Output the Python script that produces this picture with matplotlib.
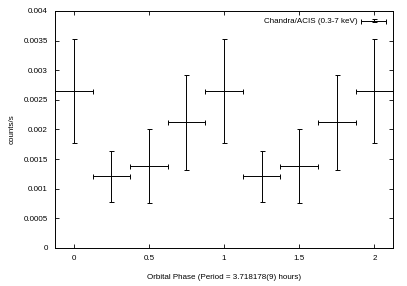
import numpy as np
import matplotlib.pyplot as plt
from matplotlib.ticker import FuncFormatter
from matplotlib.legend_handler import HandlerErrorbar
from matplotlib.container import ErrorbarContainer

plt.rcParams['font.family'] = ['Liberation Sans', 'DejaVu Sans']

phase = [0.0, 0.25, 0.5, 0.75, 1.0, 1.25, 1.5, 1.75, 2.0]
rate = [0.00265, 0.00121, 0.00138, 0.00212, 0.00265, 0.00121, 0.00138, 0.00212, 0.00265]
rate_err = [0.00088, 0.00043, 0.00062, 0.00080, 0.00088, 0.00043, 0.00062, 0.00080, 0.00088]
phase_err = [0.125] * len(phase)

x_ticks = [0, 0.5, 1, 1.5, 2]
y_ticks = [0, 0.0005, 0.001, 0.0015, 0.002, 0.0025, 0.003, 0.0035, 0.004]

fs = 5.8

fig = plt.figure(figsize=(4.07, 2.86), dpi=100)
ax = fig.add_axes([0.135, 0.133, 0.831, 0.829])

eb = ax.errorbar(phase, rate, xerr=phase_err, yerr=rate_err, fmt='none',
                 ecolor='black', elinewidth=0.7, capsize=1.8, capthick=0.7,
                 label='Chandra/ACIS (0.3-7 keV)')

ax.set_xlim(-0.125, 2.125)
ax.set_ylim(0, 0.004)
ax.set_xticks(x_ticks)
ax.set_yticks(y_ticks)
ax.xaxis.set_major_formatter(FuncFormatter(lambda v, p: '%g' % v))
ax.yaxis.set_major_formatter(FuncFormatter(lambda v, p: '%g' % v))
ax.tick_params(direction='in', top=True, right=True, length=3, width=0.6,
               labelsize=fs, pad=5)
for s in ax.spines.values():
    s.set_linewidth(0.7)

ax.set_xlabel('Orbital Phase (Period = 3.718178(9) hours)', fontsize=fs, labelpad=9)
ax.set_ylabel('counts/s', fontsize=fs, labelpad=6)

ax.legend(handles=[eb], loc='upper right', frameon=False, fontsize=fs,
          markerfirst=False, handlelength=3.1, borderaxespad=0.45,
          handletextpad=0.4,
          handler_map={ErrorbarContainer: HandlerErrorbar(xerr_size=1.55, yerr_size=0.2)})

fig.savefig('out.png', dpi=100)
